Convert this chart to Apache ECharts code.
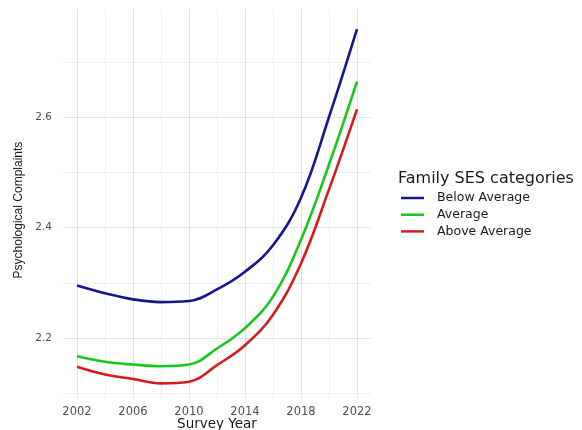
<!DOCTYPE html>
<html>
<head>
<meta charset="utf-8">
<script src="https://cdn.jsdelivr.net/npm/echarts@6/dist/echarts.min.js"></script>
<style>
  html, body { margin: 0; padding: 0; background: #ffffff; }
  #chart { width: 582px; height: 430px; }
</style>
</head>
<body>
<div id="chart"></div>
<script>
// Smoothed mean psychological complaints by survey year and family SES
const years = [2002, 2004, 2006, 2008, 2010, 2012, 2014, 2016, 2018, 2020, 2022];
const belowAverage = [2.295, 2.281, 2.270, 2.265, 2.267, 2.288, 2.320, 2.368, 2.454, 2.600, 2.759];
const average      = [2.167, 2.157, 2.152, 2.149, 2.152, 2.181, 2.218, 2.275, 2.378, 2.514, 2.664];
const aboveAverage = [2.148, 2.134, 2.126, 2.118, 2.121, 2.151, 2.187, 2.242, 2.335, 2.469, 2.614];

const seriesNames = ['Below Average', 'Average', 'Above Average'];
const seriesColors = ['#16168f', '#18c818', '#d41c1c'];
const xTickYears = [2002, 2006, 2010, 2014, 2018, 2022];
const yTickValues = [2.2, 2.4, 2.6];

const FONT = 'Liberation Sans, Arial, sans-serif';
const WIDE_FONT = 'DejaVu Sans, Liberation Sans, sans-serif';
const MAJOR = '#e2e2e2';
const MINOR = '#efefef';
const NONE = 'rgba(0,0,0,0)';

function pairs(values) {
  return years.map((y, i) => [y, values[i]]);
}

const chart = echarts.init(document.getElementById('chart'), null, { renderer: 'canvas' });

// x grid: one tick per year from 2001; colours cycle so majors fall on the
// labelled years and minors halfway between them
const xLineColors = [NONE, MAJOR, NONE, MINOR];
// y grid: one tick per 0.005 from 2.09; 40-step cycle puts majors on 2.2/2.4/2.6
const yLineColors = [];
for (let i = 0; i < 40; i++) {
  yLineColors.push(i === 2 ? MINOR : (i === 22 ? MAJOR : NONE));
}

chart.setOption({
  backgroundColor: '#ffffff',
  animation: false,
  title: {
    text: 'Family SES categories',
    left: 398,
    top: 171,
    padding: 0,
    textStyle: { fontFamily: WIDE_FONT, fontSize: 16, fontWeight: 'normal', color: '#1a1a1a' }
  },
  legend: {
    data: seriesNames,
    orient: 'vertical',
    left: 401,
    top: 191,
    padding: 0,
    icon: 'rect',
    itemWidth: 23,
    itemHeight: 2.5,
    itemGap: 2.7,
    textStyle: {
      fontFamily: WIDE_FONT,
      fontSize: 12.5,
      color: '#1a1a1a',
      lineHeight: 14,
      padding: [0, 0, 0, 8]
    }
  },
  grid: {
    left: 63,
    top: 9.3,
    width: 308,
    height: 389.5,
    containLabel: false,
    outerBoundsMode: 'none'
  },
  xAxis: {
    type: 'value',
    min: 2001,
    max: 2023,
    interval: 1,
    name: 'Survey Year',
    nameLocation: 'middle',
    nameGap: 19,
    nameMoveOverlap: false,
    nameTextStyle: { fontFamily: WIDE_FONT, fontSize: 13.5, color: '#1a1a1a' },
    axisLine: { show: false },
    axisTick: { show: false },
    axisLabel: {
      margin: 7,
      fontFamily: WIDE_FONT,
      fontSize: 11.5,
      color: '#4d4d4d',
      formatter: v => (xTickYears.indexOf(Math.round(v)) >= 0 && Math.abs(v - Math.round(v)) < 1e-6) ? String(Math.round(v)) : ''
    },
    splitLine: { show: true, lineStyle: { color: xLineColors, width: 1 } }
  },
  yAxis: {
    type: 'value',
    min: 2.09,
    max: 2.795,
    interval: 0.005,
    name: 'Psychological Complaints',
    nameLocation: 'middle',
    nameGap: 31,
    nameRotate: 90,
    nameTextStyle: { fontFamily: FONT, fontSize: 12, color: '#1a1a1a', padding: [0, 12, 0, 0] },
    axisLine: { show: false },
    axisTick: { show: false },
    axisLabel: {
      margin: 11,
      fontFamily: WIDE_FONT,
      fontSize: 10.5,
      color: '#4d4d4d',
      formatter: v => {
        const hit = yTickValues.find(t => Math.abs(t - v) < 1e-6);
        return hit !== undefined ? hit.toFixed(1) : '';
      }
    },
    splitLine: { show: true, lineStyle: { color: yLineColors, width: 1 } }
  },
  series: [belowAverage, average, aboveAverage].map((vals, i) => ({
    name: seriesNames[i],
    type: 'line',
    data: pairs(vals),
    smooth: 0.4,
    showSymbol: false,
    symbol: 'none',
    color: seriesColors[i],
    lineStyle: { color: seriesColors[i], width: 2.6 },
    z: 3 - i
  }))
});
</script>
</body>
</html>
